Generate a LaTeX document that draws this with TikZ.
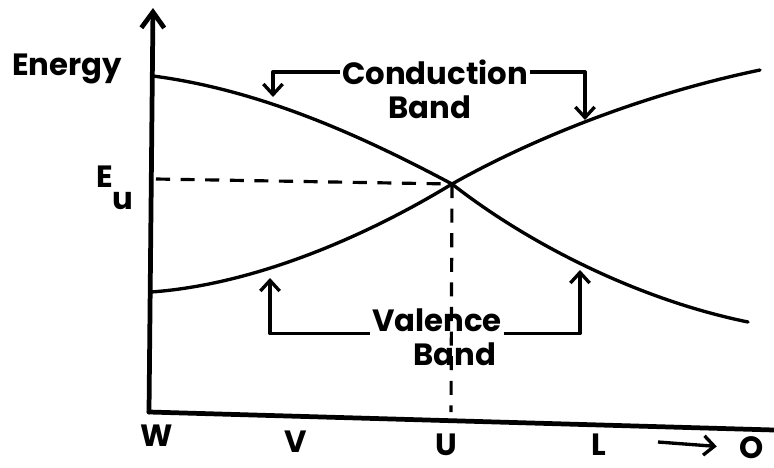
\documentclass[tikz,border=0pt]{standalone}
\usepackage{fontspec}
\setmainfont{Poppins}
\usetikzlibrary{arrows.meta,positioning,calc}

\begin{document}
\begin{tikzpicture}[x=0.02cm, y=-0.02cm,
    axis/.style={line width=2.7pt, line cap=round},
    band/.style={line width=1.9pt, line cap=round},
    pointer/.style={line width=1.9pt, line join=round, -{Straight Barb[length=6pt,width=11pt]}},
    guide/.style={line width=1.8pt, dash pattern=on 8pt off 6pt},
    lbl/.style={font=\fontsize{17.5}{20}\selectfont\bfseries, inner sep=1pt}]

    \useasboundingbox (0,0) rectangle (774,467);

    % Axes
    \coordinate (origin) at (149,412);
    \coordinate (ytop) at (153,8);
    \coordinate (xend) at (774,430);
    \draw[axis, -{Straight Barb[length=9pt,width=13pt]}] (origin) -- (ytop);
    \draw[axis] (origin) -- (xend);

    % Band edges
    \coordinate (cbW) at (153,76);
    \coordinate (cbO) at (760,70);
    \coordinate (vbW) at (151,292);
    \coordinate (vbO) at (748,322);
    \coordinate (cross) at (452,184);
    \draw[band] (cbW) .. controls (260,90) and (360,135) .. (cross)
        .. controls (530,140) and (640,95) .. (cbO);
    \draw[band] (vbW) .. controls (250,285) and (360,240) .. (cross)
        .. controls (530,245) and (640,300) .. (vbO);

    % Guides
    \coordinate (eulev) at (156,179);
    \coordinate (ufoot) at (451,412);
    \draw[guide] (eulev) -- (cross);
    \draw[guide] (cross) -- (ufoot);

    % Labels
    \node[lbl] (energy) at (67,69) {Energy};
    \node[lbl] (eu) at (115,188) {E\raisebox{-1.3ex}{u}};

    \node[lbl] (cond) at (435,72) {Conduction};
    \node[lbl, below=4pt of cond, xshift=-3pt] (cband) {Band};
    \node[lbl] (val) at (437,320) {Valence};
    \node[lbl, below=4pt of val, xshift=10pt] (vband) {Band};

    % Pointers
    \coordinate (cbtipW) at (273,97);
    \coordinate (cbtipO) at (585,120);
    \coordinate (vbtipW) at (270,278);
    \coordinate (vbtipO) at (580,270);
    \draw[pointer] (cond.west) -| (cbtipW);
    \draw[pointer] (cond.east) -| (cbtipO);
    \draw[pointer] (val.south west) -| (vbtipW);
    \draw[pointer] (val.south east) -| (vbtipO);

    % Points
    \node[lbl] (w) at (157,436) {W};
    \node[lbl] (v) at (296,442) {V};
    \node[lbl] (u) at (446,445) {U};
    \node[lbl] (l) at (599,445) {L};
    \node[lbl] (o) at (752,448) {O};
    \coordinate (dirtail) at (658,442);
    \draw[pointer, shorten >=12pt] (dirtail) -- (o.west);

\end{tikzpicture}
\end{document}
